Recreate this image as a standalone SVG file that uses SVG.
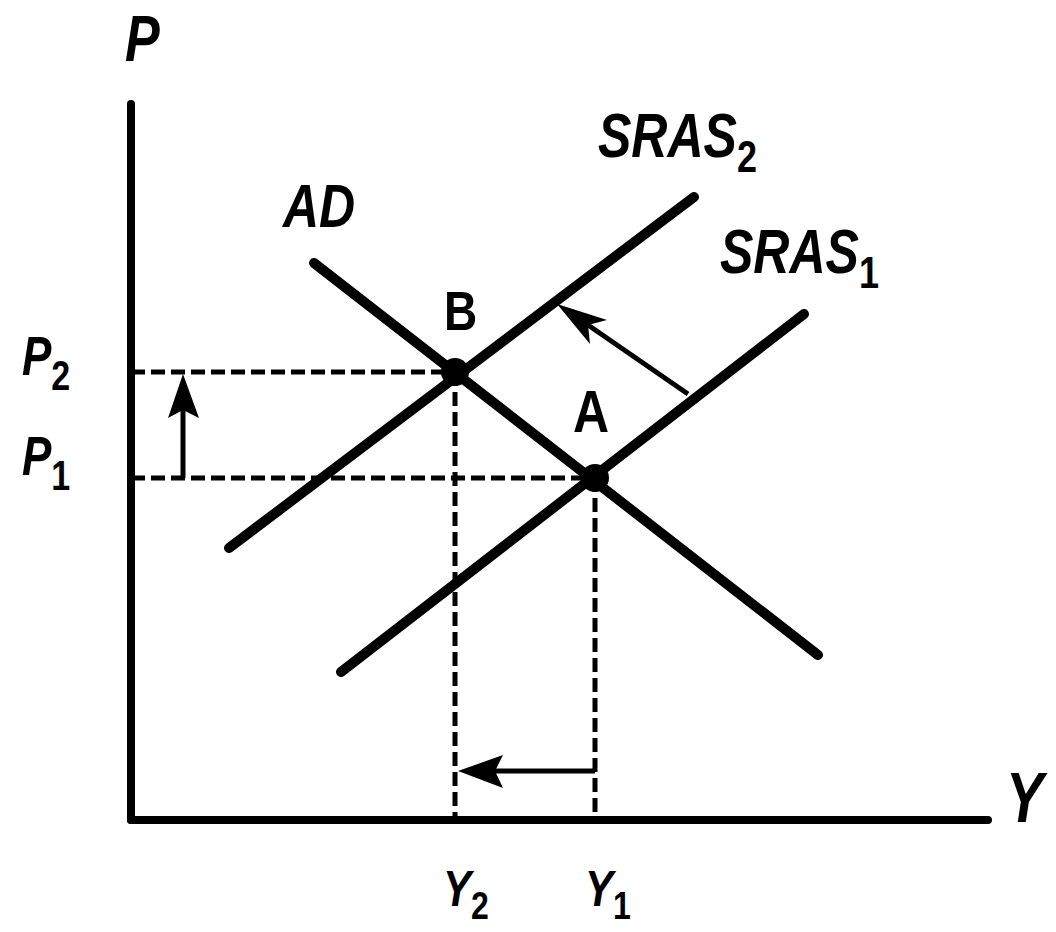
<svg xmlns="http://www.w3.org/2000/svg" width="1056" height="932" viewBox="0 0 1056 932">
<style>
.t{font-family:"Liberation Sans",Arial,sans-serif;font-weight:bold;font-style:italic;fill:#000}
.u{font-family:"Liberation Sans",Arial,sans-serif;font-weight:bold;fill:#000}
.s{font-style:normal}
.axis{stroke:#000;stroke-width:8;fill:none;stroke-linecap:round}
.curve{stroke:#000;stroke-width:10;fill:none;stroke-linecap:round}
.dash{stroke:#000;stroke-width:5;fill:none;stroke-dasharray:14 6}
.arr{stroke:#000;stroke-width:5;fill:none}
</style>
<rect width="1056" height="932" fill="#fff"/>
<g id="axes">
<line class="axis" x1="131" y1="104" x2="131" y2="820"/>
<line class="axis" x1="131" y1="820" x2="988" y2="820"/>
</g>
<g id="guides">
<line class="dash" x1="131" y1="372" x2="455" y2="372"/>
<line class="dash" x1="131" y1="478" x2="595" y2="478"/>
<line class="dash" x1="455" y1="372" x2="455" y2="820"/>
<line class="dash" x1="595" y1="478" x2="595" y2="820"/>
</g>
<g id="curves">
<line id="AD" class="curve" x1="314" y1="263" x2="818" y2="655"/>
<line id="SRAS2" class="curve" x1="229" y1="548" x2="694" y2="197"/>
<line id="SRAS1" class="curve" x1="341" y1="672" x2="804" y2="314"/>
</g>
<g id="connectors">
<line class="arr" x1="183" y1="478" x2="183" y2="410"/>
<polygon points="183,374 168,418 183,410 199,418" fill="#000"/>
<line class="arr" x1="595" y1="771" x2="495" y2="771"/>
<polygon points="458,771 503,755 495,771 503,788" fill="#000"/>
<line class="arr" x1="688" y1="394" x2="588" y2="325"/>
<polygon points="557,304 607,320 588,325 590,344" fill="#000"/>
</g>
<g id="pointB"><circle cx="455" cy="372" r="14" fill="#000"/>
<text class="u" font-size="46" transform="translate(444,330) scale(1,1.2)">B</text></g>
<g id="pointA"><circle cx="595" cy="478" r="14" fill="#000"/>
<text class="u" font-size="50" transform="translate(573,432) scale(1,1.2)">A</text></g>
<g id="labels">
<text class="t" font-size="52" transform="translate(125,61) scale(1,1.25)">P</text>
<text class="t" font-size="50" transform="translate(283,227) scale(1,1.22)">AD</text>
<text class="t" font-size="50" transform="translate(598,157) scale(1,1.25)">SRAS<tspan class="s" font-size="36" dy="12">2</tspan></text>
<text class="t" font-size="50" transform="translate(720,273) scale(1,1.25)">SRAS<tspan class="s" font-size="36" dy="12">1</tspan></text>
<text class="t" font-size="44" transform="translate(22,375) scale(1,1.25)">P<tspan class="s" font-size="34" dy="12">2</tspan></text>
<text class="t" font-size="44" transform="translate(22,475) scale(1,1.25)">P<tspan class="s" font-size="34" dy="12">1</tspan></text>
<text class="t" font-size="42" transform="translate(443,906) scale(1,1.2)">Y<tspan class="s" font-size="32" dy="11">2</tspan></text>
<text class="t" font-size="42" transform="translate(585,906) scale(1,1.2)">Y<tspan class="s" font-size="32" dy="11">1</tspan></text>
<text class="t" font-size="56" transform="translate(1006,822) scale(1,1.25)">Y</text>
</g>
</svg>
